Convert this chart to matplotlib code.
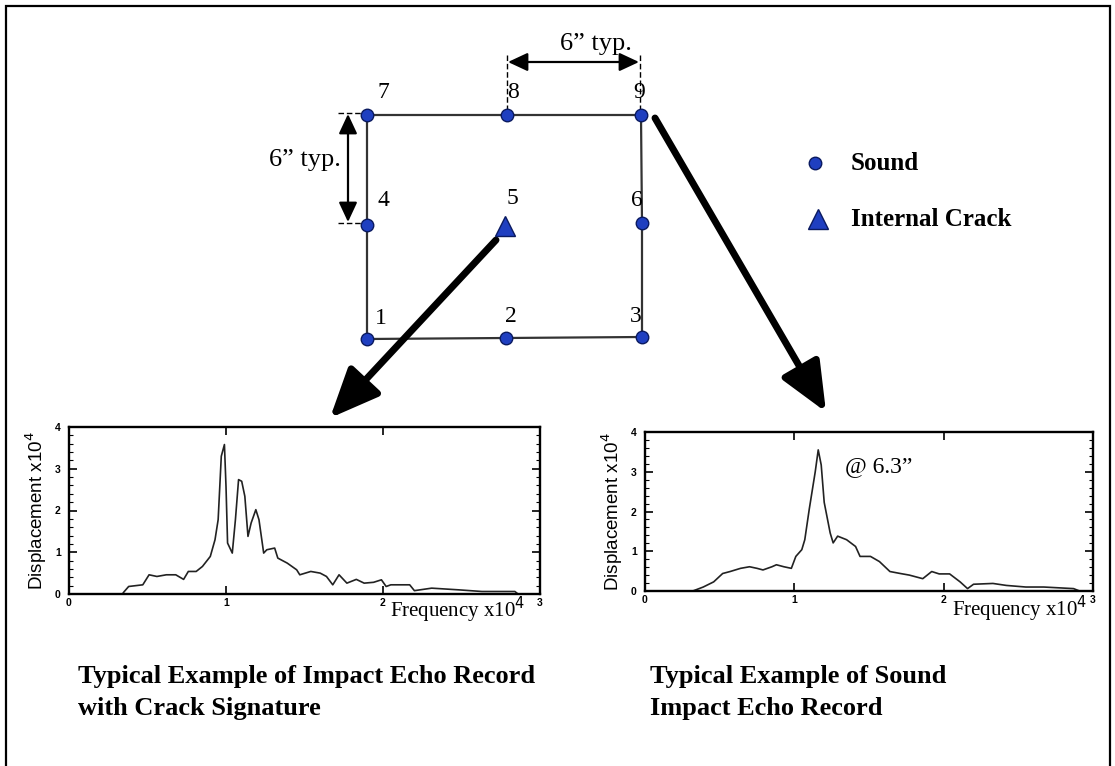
import matplotlib
matplotlib.use("Agg")
import matplotlib.pyplot as plt
import numpy as np
from matplotlib.ticker import MultipleLocator

# ---------------- data ----------------
crack_freq = [0.0, 0.34, 0.35, 0.38, 0.47, 0.51, 0.56, 0.62, 0.68, 0.73, 0.76, 0.81, 0.85, 0.90,
              0.93, 0.95, 0.97, 0.99, 1.00, 1.01, 1.04, 1.06, 1.08, 1.10, 1.12, 1.14, 1.16, 1.19,
              1.21, 1.24, 1.26, 1.31, 1.33, 1.39, 1.45, 1.47, 1.54, 1.60, 1.64, 1.68, 1.72, 1.77,
              1.83, 1.88, 1.94, 1.99, 2.02, 2.05, 2.17, 2.20, 2.31, 2.48, 2.63, 2.84, 2.86, 3.0]
crack_disp = [0.0, 0.0, 0.05, 0.18, 0.22, 0.46, 0.42, 0.46, 0.46, 0.35, 0.54, 0.54, 0.66, 0.90,
              1.30, 1.78, 3.30, 3.58, 2.58, 1.22, 0.98, 1.78, 2.74, 2.70, 2.34, 1.38, 1.70, 2.02,
              1.78, 0.98, 1.06, 1.10, 0.86, 0.74, 0.58, 0.46, 0.54, 0.50, 0.42, 0.22, 0.46, 0.26,
              0.35, 0.26, 0.28, 0.34, 0.18, 0.22, 0.22, 0.08, 0.14, 0.10, 0.06, 0.06, 0.0, 0.0]

sound_freq = [0.0, 0.32, 0.39, 0.46, 0.52, 0.57, 0.64, 0.70, 0.75, 0.79, 0.85, 0.88, 0.93, 0.98,
              1.01, 1.05, 1.07, 1.10, 1.14, 1.16, 1.18, 1.20, 1.24, 1.26, 1.29, 1.35, 1.41, 1.44,
              1.51, 1.57, 1.64, 1.71, 1.77, 1.86, 1.92, 1.97, 2.04, 2.11, 2.16, 2.20, 2.33, 2.42,
              2.55, 2.67, 2.87, 2.91, 3.0]
sound_disp = [0.0, 0.0, 0.10, 0.23, 0.44, 0.49, 0.57, 0.61, 0.57, 0.53, 0.61, 0.66, 0.61, 0.57,
              0.87, 1.04, 1.29, 2.06, 3.00, 3.55, 3.17, 2.23, 1.46, 1.21, 1.38, 1.29, 1.12, 0.87,
              0.87, 0.74, 0.49, 0.44, 0.40, 0.31, 0.49, 0.43, 0.43, 0.23, 0.06, 0.17, 0.19, 0.14,
              0.10, 0.10, 0.06, 0.0, 0.0]

x_ticks = [0, 1, 2, 3]
x_tick_labels = ["0", "1", "2", "3"]
y_ticks = [0, 1, 2, 3, 4]
y_tick_labels = ["0", "1", "2", "3", "4"]

# test points of the layout
point_labels = ["1", "2", "3", "4", "5", "6", "7", "8", "9"]
point_px = [(367, 339), (506, 338), (642, 337), (367, 225), (505, 228), (642, 223),
            (367, 115), (507, 115), (641, 115)]
point_type = ["sound", "sound", "sound", "sound", "crack", "sound", "sound", "sound", "sound"]

SERIF = ["Liberation Serif", "DejaVu Serif"]
SANS = ["Liberation Sans", "DejaVu Sans"]
BLUE = "#1f3fc0"

fig = plt.figure(figsize=(11.15, 7.66), dpi=100)

# ---------------- overlay for diagram ----------------
ov = fig.add_axes([0, 0, 1, 1])
ov.set_xlim(0, 1115)
ov.set_ylim(766, 0)
ov.axis("off")

# border
ov.plot([6, 6, 1110, 1110], [766, 6, 6, 766], color="black", lw=1.6, solid_joinstyle="miter")

# outline of grid
order = [6, 7, 8, 5, 2, 1, 0, 3, 6]
ov.plot([point_px[i][0] for i in order], [point_px[i][1] for i in order],
        color="#333333", lw=1.6, zorder=2)

for lab, (px, py), t in zip(point_labels, point_px, point_type):
    if t == "sound":
        ov.plot(px, py, "o", ms=9, mfc=BLUE, mec="#0a1a60", mew=1.0, zorder=4)
    else:
        ov.plot(px, py - 2, "^", ms=14, mfc=BLUE, mec="#0a1a60", mew=1.0, zorder=4)

label_off = {"1": (14, -21), "2": (5, -21), "3": (-6, -20), "4": (16, -25), "5": (7, -30),
             "6": (-5, -23), "7": (16, -22), "8": (6, -22), "9": (-2, -22)}
for lab, (px, py) in zip(point_labels, point_px):
    dx, dy = label_off[lab]
    ov.text(px + dx, py + dy, lab, family=SERIF, fontsize=17, ha="center", va="center", zorder=5)

# horizontal dimension
ov.plot([507, 507], [55, 110], color="black", lw=1.0, ls=(0, (4, 2)))
ov.plot([640, 640], [55, 110], color="black", lw=1.0, ls=(0, (4, 2)))
ov.annotate("", xy=(508, 62), xytext=(639, 62),
            arrowprops=dict(arrowstyle="<|-|>,head_length=0.6,head_width=0.28", color="black",
                            lw=1.6, mutation_scale=20, shrinkA=0, shrinkB=0))
ov.text(596, 44, "6\u201d typ.", family=SERIF, fontsize=19, ha="center", va="center")

# vertical dimension
ov.plot([338, 366], [113, 113], color="black", lw=1.0, ls=(0, (4, 2)))
ov.plot([338, 366], [223, 223], color="black", lw=1.0, ls=(0, (4, 2)))
ov.annotate("", xy=(348, 114), xytext=(348, 222),
            arrowprops=dict(arrowstyle="<|-|>,head_length=0.6,head_width=0.28", color="black",
                            lw=1.6, mutation_scale=20, shrinkA=0, shrinkB=0))
ov.text(341, 160, "6\u201d typ.", family=SERIF, fontsize=19, ha="right", va="center")

# big arrows
big = dict(arrowstyle="-|>,head_length=1.5,head_width=0.65", color="black", lw=5,
           mutation_scale=20, shrinkA=0, shrinkB=0)
ov.annotate("", xy=(330, 418), xytext=(496, 240), arrowprops=big)
ov.annotate("", xy=(826, 412), xytext=(655, 118), arrowprops=big)

# legend
ov.plot(815, 163, "o", ms=9, mfc=BLUE, mec="#0a1a60", mew=1.0)
ov.plot(818, 219, "^", ms=15, mfc=BLUE, mec="#0a1a60", mew=1.0)
ov.text(851, 163, "Sound", family=SERIF, fontsize=18, fontweight="bold", ha="left", va="center")
ov.text(851, 219, "Internal Crack", family=SERIF, fontsize=18, fontweight="bold",
        ha="left", va="center")

# captions
cap = dict(family=SERIF, fontsize=19, fontweight="bold", ha="left", va="center")
ov.text(78, 677, "Typical Example of Impact Echo Record", **cap)
ov.text(78, 709, "with Crack Signature", **cap)
ov.text(650, 677, "Typical Example of Sound", **cap)
ov.text(650, 709, "Impact Echo Record", **cap)

# ---------------- spectra ----------------
def style_axes(ax):
    ax.set_xlim(0, 3)
    ax.set_ylim(0, 4)
    for s in ax.spines.values():
        s.set_linewidth(1.7)
    ax.set_xticks(x_ticks)
    ax.set_xticklabels(x_tick_labels, family=SANS, fontsize=7.5, fontweight="bold")
    ax.set_yticks(y_ticks)
    ax.set_yticklabels(y_tick_labels, family=SANS, fontsize=7.5, fontweight="bold")
    ax.yaxis.set_minor_locator(MultipleLocator(0.2))
    ax.tick_params(axis="both", which="major", direction="in", length=6, width=1.2,
                   top=True, right=True)
    ax.tick_params(axis="x", which="major", pad=3)
    ax.tick_params(axis="y", which="major", pad=6)
    ax.tick_params(axis="y", which="minor", direction="in", length=3, width=0.8, right=True)
    ax.set_ylabel("Displacement x10$^4$", family=SANS, fontsize=13.5, labelpad=4)


ax1 = fig.add_axes([69 / 1115, 1 - 594 / 766, (540 - 69) / 1115, (594 - 427) / 766])
ax1.plot(crack_freq, crack_disp, color="#222222", lw=1.2)
style_axes(ax1)

ax2 = fig.add_axes([645 / 1115, 1 - 591 / 766, (1093 - 645) / 1115, (591 - 432) / 766])
ax2.plot(sound_freq, sound_disp, color="#222222", lw=1.2)
style_axes(ax2)

ov.text(525, 610, "Frequency x10$^4$", family=SERIF, fontsize=15, ha="right", va="center")
ov.text(1087, 609, "Frequency x10$^4$", family=SERIF, fontsize=15, ha="right", va="center")
ov.text(845, 467, "@ 6.3\u201d", family=SERIF, fontsize=17, ha="left", va="center")

ov.set_zorder(3)
ov.patch.set_alpha(0)

fig.savefig("out.png", dpi=100)
